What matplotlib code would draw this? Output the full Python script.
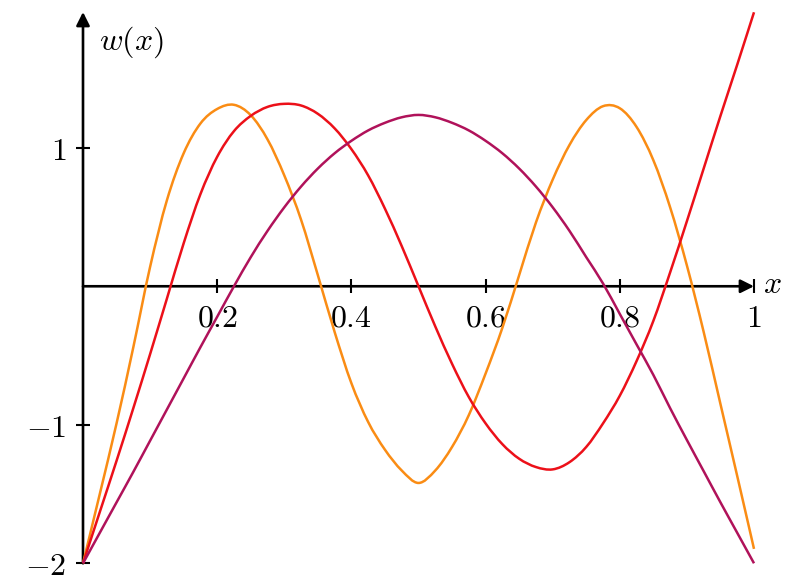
import matplotlib
matplotlib.use("Agg")
import matplotlib.pyplot as plt
from matplotlib.path import Path
from matplotlib.patches import PathPatch

x = [0.000, 0.025, 0.050, 0.075, 0.100, 0.125, 0.150, 0.175, 0.200, 0.225,
     0.250, 0.275, 0.300, 0.325, 0.350, 0.375, 0.400, 0.425, 0.450, 0.475,
     0.500, 0.525, 0.550, 0.575, 0.600, 0.625, 0.650, 0.675, 0.700, 0.725,
     0.750, 0.775, 0.800, 0.825, 0.850, 0.875, 0.900, 0.925, 0.950, 0.975,
     1.000]

w_purple = [-2.00, -1.78, -1.56, -1.34, -1.115, -0.89, -0.665, -0.44, -0.22, 0.00,
            0.21, 0.40, 0.57, 0.72, 0.85, 0.96, 1.05, 1.125, 1.18, 1.22,
            1.237, 1.22, 1.18, 1.125, 1.05, 0.96, 0.85, 0.72, 0.57, 0.40,
            0.21, 0.02, -0.20, -0.42, -0.64, -0.88, -1.11, -1.335, -1.56, -1.78,
            -2.00]

w_red = [-2.00, -1.63, -1.26, -0.88, -0.49, -0.09, 0.31, 0.665, 0.935, 1.12,
         1.23, 1.295, 1.317, 1.305, 1.245, 1.14, 0.99, 0.80, 0.56, 0.29,
         0.00, -0.29, -0.56, -0.80, -0.99, -1.14, -1.245, -1.305, -1.322, -1.27,
         -1.16, -0.99, -0.79, -0.54, -0.25, 0.10, 0.47, 0.85, 1.23, 1.60,
         1.978]

w_orange = [-2.00, -1.50, -0.99, -0.44, 0.14, 0.62, 0.96, 1.175, 1.28, 1.31,
            1.235, 1.06, 0.80, 0.48, 0.08, -0.33, -0.70, -0.98, -1.18, -1.33,
            -1.42, -1.33, -1.16, -0.93, -0.63, -0.30, 0.08, 0.46, 0.77, 1.02,
            1.20, 1.30, 1.285, 1.15, 0.91, 0.57, 0.15, -0.33, -0.85, -1.37,
            -1.896]

xticks = [0.2, 0.4, 0.6, 0.8, 1.0]
xtick_labels = ["$0.2$", "$0.4$", "$0.6$", "$0.8$", "$1$"]
yticks = [-2, -1, 1]
ytick_labels = ["$-2$", "$-1$", "$1$"]

plt.rcParams["mathtext.fontset"] = "cm"


def smooth_curve(ax, xs, ys, color, lw=1.8):
    # Catmull-Rom through the read points, drawn as cubic Bezier segments
    n = len(xs)
    verts = [(xs[0], ys[0])]
    codes = [Path.MOVETO]
    for i in range(n - 1):
        i0 = max(i - 1, 0)
        i3 = min(i + 2, n - 1)
        c1 = (xs[i] + (xs[i + 1] - xs[i0]) / 6, ys[i] + (ys[i + 1] - ys[i0]) / 6)
        c2 = (xs[i + 1] - (xs[i3] - xs[i]) / 6, ys[i + 1] - (ys[i3] - ys[i]) / 6)
        verts += [c1, c2, (xs[i + 1], ys[i + 1])]
        codes += [Path.CURVE4] * 3
    patch = PathPatch(Path(verts, codes), fill=False, edgecolor=color, lw=lw,
                      joinstyle="round", capstyle="butt", clip_on=False, zorder=3)
    ax.add_patch(patch)


fig = plt.figure(figsize=(8, 5.86), dpi=100)
ax = fig.add_axes([83 / 800, 1 - 563.3 / 586, (754 - 83) / 800, (563.3 - 12) / 586])
ax.set_xlim(0, 1)
ax.set_ylim(-2, 1.98)

for s in ax.spines.values():
    s.set_visible(False)
ax.spines["bottom"].set_position(("data", 0))
ax.spines["left"].set_position(("data", 0))

# axis arrows
arrow = dict(arrowstyle="-|>", lw=1.9, color="black", mutation_scale=20,
             shrinkA=0, shrinkB=0)
ax.annotate("", xy=(1, 0), xytext=(0, 0), arrowprops=arrow, annotation_clip=False)
ax.annotate("", xy=(0, 1.98), xytext=(0, -2), arrowprops=arrow, annotation_clip=False)

smooth_curve(ax, x, w_orange, "#FA8C14")
smooth_curve(ax, x, w_red, "#EC1019")
smooth_curve(ax, x, w_purple, "#B0125A")

ax.set_xticks(xticks)
ax.set_xticklabels(xtick_labels)
ax.set_yticks(yticks)
ax.set_yticklabels(ytick_labels)
ax.tick_params(direction="inout", length=9.5, width=1.5, labelsize=23, pad=7)

ax.text(0.024, 1.76, "$w(x)$", fontsize=23, ha="left", va="center")
ax.text(1.014, 0.01, "$x$", fontsize=23, ha="left", va="center", clip_on=False)

fig.savefig("out.png", dpi=100)
